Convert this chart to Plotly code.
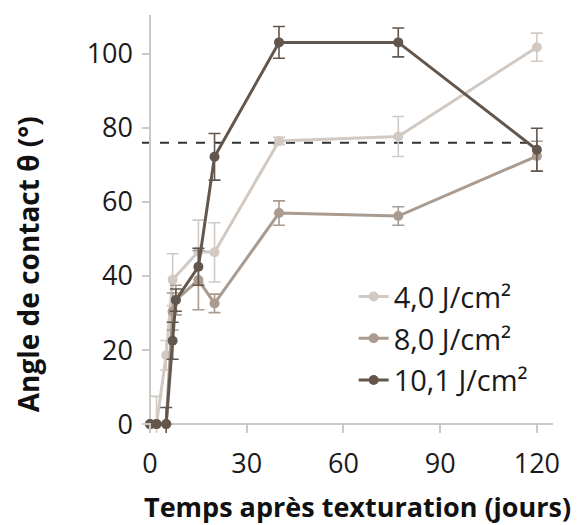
import plotly.graph_objects as go

# Jours apres texturation
days_40 = [0, 2, 5, 7, 15, 20, 40, 77, 120]
angle_40 = [0, 0, 18.6, 39, 46.6, 46.4, 76.5, 77.7, 101.8]
err_40 = [0, 7.5, 4, 7, 8.5, 8, 1, 5.4, 3.8]

days_80 = [0, 2, 5, 7, 8, 15, 20, 40, 77, 120]
angle_80 = [0, 0, 0, 30.4, 33.5, 38.9, 32.6, 57, 56.2, 72.4]
err_80 = [0, 0, 0, 5, 4, 8, 2.5, 3.3, 2.5, 4]

days_101 = [0, 2, 5, 7, 8, 15, 20, 40, 77, 120]
angle_101 = [0, 0, 0, 22.5, 33.5, 42.5, 72.2, 103.1, 103.1, 74.1]
err_101 = [0, 0, 4.5, 5, 3, 5, 6.3, 4.3, 3.9, 5.8]

seuil = 76  # ligne pointillee
x_range = [-2.5, 125]
y_range = [-2.4, 110.5]

series = [
    ('4,0 J/cm²', days_40, angle_40, err_40, '#d2cac2'),
    ('8,0 J/cm²', days_80, angle_80, err_80, '#a99b90'),
    ('10,1 J/cm²', days_101, angle_101, err_101, '#63574d'),
]

FONT = 'Open Sans'

fig = go.Figure()

for i, (name, x, y, e, color) in enumerate(series):
    fig.add_trace(go.Scatter(
        x=x, y=y, name=name, mode='lines+markers',
        line=dict(color=color, width=3),
        marker=dict(color=color, size=10),
        error_y=dict(type='data', array=e, color=color, thickness=1.6, width=6),
        legendgroup=f'g{i}',
        cliponaxis=False,
    ))

fig.add_shape(type='line', xref='x', yref='y', x0=x_range[0], x1=120,
              y0=seuil, y1=seuil, line=dict(color='#333333', width=1.8, dash='dash'),
              layer='below')

fig.add_annotation(text='<b>Temps après texturation (jours)</b>', xref='paper', yref='paper',
                   x=0.525, y=-0.177, yanchor='middle', showarrow=False,
                   font=dict(family=FONT, size=27, color='#111111'))
fig.add_annotation(text='<b>Angle de contact θ (°)</b>', xref='paper', yref='paper',
                   x=-0.277, y=0.404, textangle=-90, xanchor='center', yanchor='middle',
                   showarrow=False, font=dict(family=FONT, size=28, color='#111111'))

fig.update_xaxes(
    range=x_range, tickvals=[0, 30, 60, 90, 120], showgrid=False,
    zeroline=True, zerolinecolor='#c9c9c9', zerolinewidth=2,
    showline=False, ticks='inside', ticklen=9, tickcolor='#c9c9c9', tickwidth=1.5,
    ticklabelstandoff=12,
    tickfont=dict(family=FONT, size=27, color='#1a1a1a'),
)
fig.update_yaxes(
    range=y_range, tickvals=[0, 20, 40, 60, 80, 100], showgrid=False,
    zeroline=True, zerolinecolor='#c9c9c9', zerolinewidth=2,
    showline=False, ticks='inside', ticklen=9, tickcolor='#c9c9c9', tickwidth=1.5,
    ticklabelstandoff=8,
    tickfont=dict(family=FONT, size=27, color='#1a1a1a'),
)

# la page html ajoute 8px de marge au body : on compense ici
fig.update_layout(
    width=584, height=525,
    margin=dict(l=134, r=39, t=7, b=100),
    plot_bgcolor='white', paper_bgcolor='white',
    showlegend=True,
    legend=dict(x=0.515, y=0.387, xanchor='left', yanchor='top',
                font=dict(family=FONT, size=29, color='#1a1a1a'),
                tracegroupgap=1, bgcolor='rgba(0,0,0,0)'),
)

fig.write_html('out.html')
